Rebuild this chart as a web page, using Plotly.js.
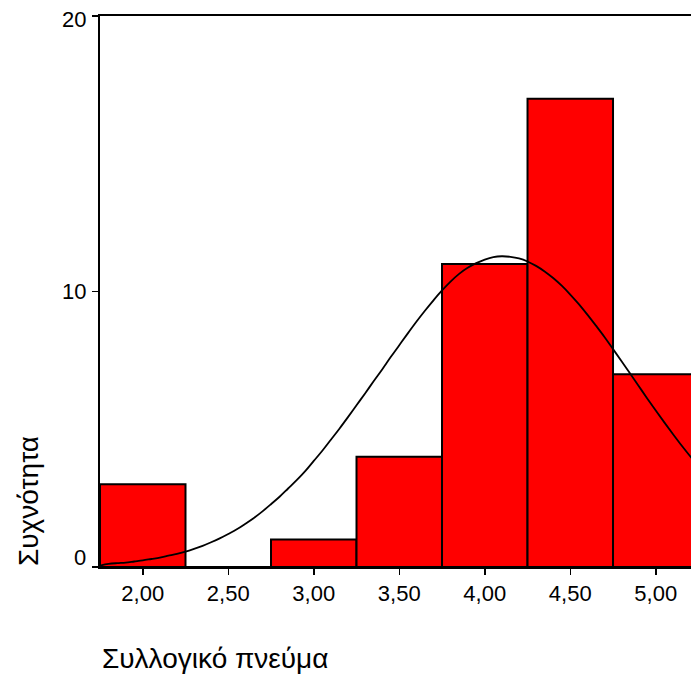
<!DOCTYPE html>
<html>
<head>
<meta charset="utf-8">
<script src="https://cdn.plot.ly/plotly-3.0.1.min.js"></script>
<style>
  html, body { margin: 0; padding: 0; background: #ffffff; }
  #chart { width: 691px; height: 680px; }
</style>
</head>
<body>
<div id="chart"></div>
<script>
// Histogram bins (centres) and frequencies
const binCenters = [2.0, 2.5, 3.0, 3.5, 4.0, 4.5, 5.0];
const frequencies = [3, 0, 1, 4, 11, 17, 7];

// Normal curve
const curveX = [1.75, 1.80, 1.85, 1.90, 1.95, 2.00, 2.05, 2.10, 2.15, 2.20,
  2.25, 2.30, 2.35, 2.40, 2.45, 2.50, 2.55, 2.60, 2.65, 2.70,
  2.75, 2.80, 2.85, 2.90, 2.95, 3.00, 3.05, 3.10, 3.15, 3.20,
  3.25, 3.30, 3.35, 3.40, 3.45, 3.50, 3.55, 3.60, 3.65, 3.70,
  3.75, 3.80, 3.85, 3.90, 3.95, 4.00, 4.05, 4.10, 4.15, 4.20,
  4.25, 4.30, 4.35, 4.40, 4.45, 4.50, 4.55, 4.60, 4.65, 4.70,
  4.75, 4.80, 4.85, 4.90, 4.95, 5.00, 5.05, 5.10, 5.15, 5.20, 5.25];
const curveY = [0.05, 0.11, 0.14, 0.16, 0.20, 0.24, 0.29, 0.34, 0.41, 0.48,
  0.56, 0.66, 0.77, 0.90, 1.04, 1.20, 1.37, 1.57, 1.78, 2.02,
  2.28, 2.55, 2.85, 3.15, 3.48, 3.85, 4.22, 4.62, 5.02, 5.44,
  5.87, 6.30, 6.74, 7.17, 7.62, 8.05, 8.48, 8.90, 9.30, 9.68,
  10.04, 10.36, 10.64, 10.86, 11.03, 11.16, 11.25, 11.28, 11.26, 11.20,
  11.09, 10.93, 10.73, 10.49, 10.21, 9.89, 9.54, 9.16, 8.76, 8.35,
  7.91, 7.47, 7.02, 6.57, 6.12, 5.68, 5.25, 4.83, 4.42, 4.03, 3.66];

// Tick labels
const xTickVals = [2.0, 2.5, 3.0, 3.5, 4.0, 4.5, 5.0];
const xTickText = ["2,00", "2,50", "3,00", "3,50", "4,00", "4,50", "5,00"];
const yTickVals = [0, 10, 20];
const yTickText = ["0", "10", "20"];
const xTitle = "Συλλογικό πνεύμα";
const yTitle = "Συχνότητα";

const FONT = "Liberation Sans, Arial, sans-serif";
const TICKSIZE = 22;

const traces = [
  {
    type: "bar",
    x: binCenters,
    y: frequencies,
    width: binCenters.map(() => 0.5),
    marker: { color: "#ff0000", line: { color: "#000000", width: 2 } },
    hoverinfo: "skip"
  },
  {
    type: "scatter",
    mode: "lines",
    x: curveX,
    y: curveY,
    line: { color: "#000000", width: 1.8, shape: "spline" },
    hoverinfo: "skip"
  }
];

// y tick labels drawn as annotations so the end labels stay inside the frame as in the original
const yLabelShift = (v) => (v === 0 ? 10 : (v === 20 ? -3 : 0));
const yTickAnnotations = yTickVals.map((v, i) => ({
  text: yTickText[i],
  xref: "paper", yref: "y",
  x: 0, y: v,
  xanchor: "right", yanchor: "middle",
  xshift: -12, yshift: yLabelShift(v),
  showarrow: false,
  font: { family: FONT, size: TICKSIZE, color: "#000000" }
}));

const layout = {
  width: 691,
  height: 680,
  margin: { l: 100, r: 0, t: 16, b: 113 },
  paper_bgcolor: "#ffffff",
  plot_bgcolor: "#ffffff",
  showlegend: false,
  bargap: 0,
  font: { family: FONT, color: "#000000", size: TICKSIZE },
  xaxis: {
    range: [1.75, 5.206],
    tickmode: "array",
    tickvals: xTickVals,
    ticktext: xTickText,
    ticks: "outside",
    ticklen: 6,
    tickwidth: 1.5,
    tickcolor: "#000000",
    tickfont: { family: FONT, size: TICKSIZE, color: "#000000" },
    showgrid: false,
    zeroline: false,
    showline: true,
    linecolor: "#000000",
    linewidth: 2,
    mirror: true
  },
  yaxis: {
    range: [0, 20],
    tickmode: "array",
    tickvals: yTickVals,
    ticks: "outside",
    ticklen: 6,
    tickwidth: 1.5,
    tickcolor: "#000000",
    showticklabels: false,
    showgrid: false,
    zeroline: false,
    showline: true,
    linecolor: "#000000",
    linewidth: 2
  },
  annotations: yTickAnnotations.concat([
    {
      text: xTitle,
      xref: "paper", yref: "paper",
      x: 0, y: -0.166,
      xanchor: "left", yanchor: "middle",
      showarrow: false,
      font: { family: FONT, size: 28, color: "#000000" }
    },
    {
      text: yTitle,
      xref: "paper", yref: "paper",
      x: -0.122, y: -0.002,
      xanchor: "center", yanchor: "bottom",
      textangle: -90,
      showarrow: false,
      font: { family: FONT, size: 28, color: "#000000" }
    }
  ])
};

Plotly.newPlot("chart", traces, layout, { staticPlot: true, displayModeBar: false });
</script>
</body>
</html>
